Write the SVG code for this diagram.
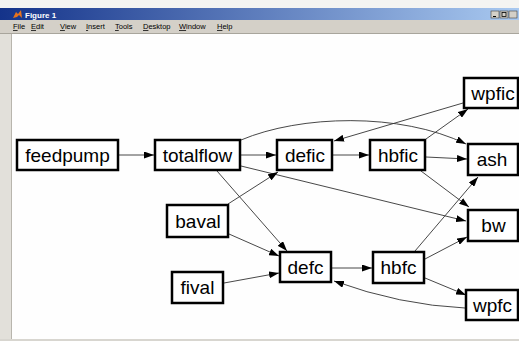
<svg xmlns="http://www.w3.org/2000/svg" width="519" height="341" viewBox="0 0 519 341">
<defs>
<linearGradient id="tb" x1="0" y1="0" x2="1" y2="0">
<stop offset="0" stop-color="#14338a"/>
<stop offset="1" stop-color="#a9c9f0"/>
</linearGradient>
<marker id="ah" viewBox="0 0 10 7" markerWidth="10" markerHeight="7" refX="10" refY="3.5" orient="auto" markerUnits="userSpaceOnUse">
<path d="M0,0 L10,3.5 L0,7 z" fill="#000"/>
</marker>
</defs>
<style>
.box{fill:#fff;stroke:#000;stroke-width:2.5}
.lbl{font-family:"Liberation Sans",Arial,sans-serif;font-size:19px;fill:#000;text-anchor:middle}
.e{fill:none;stroke:#333;stroke-width:0.9;marker-end:url(#ah)}
.menu{font-family:"Liberation Sans",Arial,sans-serif;font-size:7.5px;fill:#000}
.u{text-decoration:underline}
</style>
<!-- window chrome -->
<rect x="0" y="0" width="519" height="341" fill="#d4d0c8"/>
<rect x="0" y="0" width="519" height="8" fill="#f4f4f2"/>
<rect x="0" y="8" width="519" height="12" fill="url(#tb)"/>
<path d="M13,18 L16,12 L18,14 L21,10 L22,18 L19,15 L17,17 z" fill="#e8731c"/>
<text x="25" y="17.5" font-family="Liberation Sans,Arial,sans-serif" font-size="8" font-weight="bold" fill="#fff">Figure 1</text>
<g fill="#d4d0c8" stroke="#404040" stroke-width="0.6">
<rect x="491" y="11" width="8" height="7"/>
<rect x="500" y="11" width="8" height="7"/>
<rect x="509" y="11" width="8" height="7"/>
</g>
<rect x="493" y="16" width="3" height="1" fill="#000"/>
<rect x="502" y="12.5" width="4" height="4" fill="none" stroke="#000" stroke-width="0.8"/>
<rect x="0" y="20" width="519" height="13" fill="#d4d0c8"/>
<g class="menu">
<text x="13" y="29"><tspan class="u">F</tspan>ile</text>
<text x="31" y="29"><tspan class="u">E</tspan>dit</text>
<text x="60" y="29"><tspan class="u">V</tspan>iew</text>
<text x="86" y="29"><tspan class="u">I</tspan>nsert</text>
<text x="115" y="29"><tspan class="u">T</tspan>ools</text>
<text x="143" y="29"><tspan class="u">D</tspan>esktop</text>
<text x="179" y="29"><tspan class="u">W</tspan>indow</text>
<text x="217" y="29"><tspan class="u">H</tspan>elp</text>
</g>
<rect x="0" y="33" width="519" height="1" fill="#a8a59c"/>
<rect x="0" y="34" width="12" height="305" fill="#e2e0da"/>
<rect x="11" y="34" width="1" height="305" fill="#b8b5ad"/>
<rect x="12" y="34" width="507" height="305" fill="#fefefe"/>
<rect x="0" y="339" width="519" height="2" fill="#d8d6d0"/>

<g id="connectors">
<path class="e" d="M119,155 L154,155"/>
<path class="e" d="M241,155 L276,155"/>
<path class="e" d="M333,155 L369,155"/>
<path class="e" d="M332,268 L372,268"/>
<path class="e" d="M241,140 C300,115 400,112 466,144"/>
<path class="e" d="M241,166 L466,221"/>
<path class="e" d="M217,171 L287,251"/>
<path class="e" d="M228,204 L278,172"/>
<path class="e" d="M229,234 L279,256"/>
<path class="e" d="M224,283 L279,273"/>
<path class="e" d="M426,157 L467,159"/>
<path class="e" d="M426,139 L468,109"/>
<path class="e" d="M463,103 L334,141"/>
<path class="e" d="M421,171 L469,207"/>
<path class="e" d="M415,251 L478,177"/>
<path class="e" d="M425,259 L467,237"/>
<path class="e" d="M425,278 L466,295"/>
<path class="e" d="M465,308 Q400,305 334,281"/>
</g>

<g id="feedpump"><rect class="box" x="17" y="140" width="101" height="30"/><text class="lbl" x="67.5" y="161.5">feedpump</text></g>
<g id="totalflow"><rect class="box" x="155" y="140" width="85" height="30"/><text class="lbl" x="197.5" y="161.5">totalflow</text></g>
<g id="defic"><rect class="box" x="277" y="140" width="55" height="30"/><text class="lbl" x="305" y="161.5">defic</text></g>
<g id="hbfic"><rect class="box" x="370" y="140" width="55" height="30"/><text class="lbl" x="398" y="161.5">hbfic</text></g>
<g id="wpfic"><rect class="box" x="464" y="78" width="54" height="30"/><text class="lbl" x="493" y="99.5">wpfic</text></g>
<g id="ash"><rect class="box" x="468" y="144" width="50" height="31"/><text class="lbl" x="492" y="166">ash</text></g>
<g id="bw"><rect class="box" x="468" y="210" width="50" height="31"/><text class="lbl" x="493.5" y="232">bw</text></g>
<g id="wpfc"><rect class="box" x="466" y="290" width="52" height="30"/><text class="lbl" x="492.5" y="311.5">wpfc</text></g>
<g id="baval"><rect class="box" x="167" y="205" width="61" height="32"/><text class="lbl" x="198" y="227.5">baval</text></g>
<g id="fival"><rect class="box" x="172" y="272" width="51" height="31"/><text class="lbl" x="197.5" y="294">fival</text></g>
<g id="defc"><rect class="box" x="280" y="252" width="51" height="30"/><text class="lbl" x="305.5" y="273.5">defc</text></g>
<g id="hbfc"><rect class="box" x="373" y="252" width="51" height="31"/><text class="lbl" x="398.5" y="274">hbfc</text></g>
</svg>
